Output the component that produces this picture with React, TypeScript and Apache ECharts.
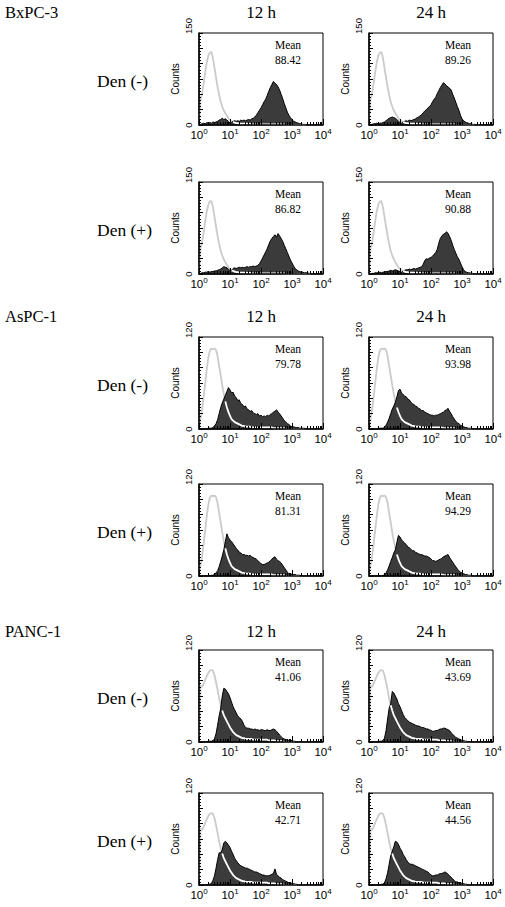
import React, { useEffect, useRef } from "react";
import * as echarts from "echarts";

// log10 of fluorescence channel (bin centres)
const BINS = [
  0, 0.05, 0.1, 0.15, 0.2, 0.25, 0.3, 0.35, 0.4, 0.45,
  0.5, 0.55, 0.6, 0.65, 0.7, 0.75, 0.8, 0.85, 0.9, 0.95,
  1, 1.05, 1.1, 1.15, 1.2, 1.25, 1.3, 1.35, 1.4, 1.45,
  1.5, 1.55, 1.6, 1.65, 1.7, 1.75, 1.8, 1.85, 1.9, 1.95,
  2, 2.05, 2.1, 2.15, 2.2, 2.25, 2.3, 2.35, 2.4, 2.45,
  2.5, 2.55, 2.6, 2.65, 2.7, 2.75, 2.8, 2.85, 2.9, 2.95,
  3, 3.05, 3.1, 3.15, 3.2, 3.25, 3.3, 3.35, 3.4, 3.45,
  3.5, 3.55, 3.6, 3.65, 3.7, 3.75, 3.8, 3.85, 3.9, 3.95,
  4,
];

const CELL_LINES = ["BxPC-3", "AsPC-1", "PANC-1"];
const TIMES = ["12 h", "24 h"];
const TREATMENTS = ["Den (-)", "Den (+)", "Den (-)", "Den (+)", "Den (-)", "Den (+)"];
const ROW_YMAX = [150, 150, 120, 120, 120, 120];
const MEANS = [
  ["88.42", "89.26"],
  ["86.82", "90.88"],
  ["79.78", "93.98"],
  ["81.31", "94.29"],
  ["41.06", "43.69"],
  ["42.71", "44.56"],
];

// control (isotype) histograms, one per cell line
const CTRL_BXPC3 = [
  0, 42, 52, 68, 86, 102, 113, 118, 119, 109,
  93, 77, 62, 49, 38, 30, 24, 19, 15, 11,
  8, 6, 5, 4, 3, 3, 2, 2, 2, 2,
  2, 2, 1, 2, 1, 1, 1, 1, 1, 1,
  1, 1, 1, 1, 1, 1, 1, 1, 1, 1,
  1, 1, 1, 1, 0, 1, 0, 0, 0, 0,
  0, 0, 0, 0, 0, 0, 0, 0, 0, 0,
  0, 0, 0, 0, 0, 0, 0, 0, 0, 0,
  0,
];
const CTRL_ASPC1 = [
  0, 14, 26, 42, 60, 78, 93, 102, 105, 104,
  105, 103, 95, 82, 70, 57, 46, 36, 28, 22,
  17, 13, 11, 9, 8, 7, 6, 5, 4, 4,
  3, 3, 3, 3, 2, 2, 2, 2, 2, 2,
  2, 2, 2, 2, 2, 2, 2, 2, 1, 1,
  1, 1, 1, 1, 1, 1, 0, 0, 0, 0,
  0, 0, 0, 0, 0, 0, 0, 0, 0, 0,
  0, 0, 0, 0, 0, 0, 0, 0, 0, 0,
  0,
];
const CTRL_PANC1 = [
  0, 74, 72, 76, 81, 86, 90, 93, 94, 93,
  87, 78, 68, 57, 48, 41, 35, 31, 27, 23,
  19, 16, 13, 11, 9, 8, 7, 6, 5, 5,
  4, 4, 4, 4, 4, 3, 3, 3, 3, 3,
  3, 3, 3, 3, 3, 2, 2, 2, 2, 2,
  1, 1, 1, 1, 1, 0, 0, 0, 0, 0,
  0, 0, 0, 0, 0, 0, 0, 0, 0, 0,
  0, 0, 0, 0, 0, 0, 0, 0, 0, 0,
  0,
];

// stained sample histograms
const S_BX_M12 = [
  0, 1, 2, 3, 2, 4, 3, 4, 3, 5,
  4, 5, 6, 8, 9, 11, 9, 10, 8, 6,
  3, 4, 6, 7, 6, 7, 6, 8, 7, 8,
  7, 8, 9, 8, 10, 11, 13, 16, 20, 24,
  28, 33, 38, 42, 48, 55, 61, 66, 71, 68,
  66, 62, 57, 50, 43, 35, 28, 21, 16, 12,
  9, 6, 5, 4, 3, 2, 2, 1, 1, 1,
  0, 0, 0, 0, 0, 0, 0, 0, 0, 0,
  0,
];
const S_BX_M24 = [
  0, 1, 1, 2, 2, 3, 2, 3, 3, 4,
  5, 7, 9, 11, 12, 13, 12, 11, 9, 6,
  4, 3, 5, 6, 7, 6, 8, 7, 8, 9,
  10, 12, 13, 15, 17, 20, 23, 25, 28, 30,
  33, 38, 42, 45, 51, 56, 61, 65, 69, 67,
  64, 62, 60, 57, 50, 44, 37, 30, 24, 16,
  10, 7, 5, 4, 3, 2, 2, 1, 1, 0,
  0, 0, 0, 0, 0, 0, 0, 0, 0, 0,
  0,
];
const S_BX_P12 = [
  0, 1, 2, 2, 3, 3, 4, 3, 4, 4,
  5, 5, 6, 7, 8, 10, 12, 11, 10, 8,
  5, 6, 9, 10, 9, 10, 11, 10, 11, 10,
  11, 12, 11, 12, 12, 13, 12, 13, 14, 17,
  21, 26, 31, 36, 41, 48, 54, 58, 61, 64,
  60, 66, 62, 58, 53, 47, 41, 35, 29, 23,
  18, 13, 9, 7, 5, 4, 3, 3, 2, 2,
  2, 1, 1, 0, 0, 0, 0, 0, 0, 0,
  0,
];
const S_BX_P24 = [
  0, 0, 1, 1, 2, 2, 2, 3, 2, 3,
  3, 4, 4, 5, 6, 5, 6, 7, 6, 5,
  4, 3, 5, 6, 7, 7, 8, 7, 8, 9,
  8, 9, 10, 11, 12, 16, 22, 25, 24, 26,
  27, 29, 32, 35, 40, 50, 58, 62, 65, 66,
  69, 66, 61, 55, 47, 40, 34, 28, 24, 18,
  12, 7, 4, 3, 2, 2, 1, 1, 0, 0,
  0, 0, 0, 0, 0, 0, 0, 0, 0, 0,
  0,
];
const S_AS_M12 = [
  0, 0, 0, 0, 0, 0, 1, 1, 1, 2,
  4, 7, 12, 20, 28, 34, 39, 44, 49, 54,
  51, 47, 48, 43, 41, 37, 38, 33, 32, 29,
  30, 26, 25, 23, 24, 21, 20, 19, 20, 17,
  18, 16, 17, 16, 18, 17, 19, 20, 22, 23,
  25, 22, 20, 17, 14, 11, 9, 7, 6, 4,
  3, 3, 2, 2, 2, 1, 1, 1, 1, 0,
  0, 0, 0, 0, 0, 0, 0, 0, 0, 0,
  0,
];
const S_AS_M24 = [
  0, 0, 0, 0, 0, 0, 0, 1, 1, 1,
  2, 5, 9, 14, 20, 26, 30, 35, 42, 50,
  52, 47, 45, 43, 42, 39, 38, 35, 33, 32,
  30, 29, 27, 26, 24, 24, 22, 21, 20, 19,
  18, 18, 17, 18, 18, 19, 20, 21, 22, 24,
  25, 27, 23, 20, 16, 13, 10, 8, 7, 5,
  4, 3, 2, 2, 1, 1, 1, 0, 0, 0,
  0, 0, 0, 0, 0, 0, 0, 0, 0, 0,
  0,
];
const S_AS_P12 = [
  0, 0, 0, 0, 0, 0, 0, 0, 1, 1,
  2, 4, 7, 12, 19, 26, 34, 45, 55, 50,
  47, 45, 42, 39, 36, 34, 31, 30, 28, 28,
  27, 27, 26, 27, 25, 24, 23, 22, 20, 18,
  16, 15, 15, 16, 17, 18, 20, 22, 24, 25,
  22, 20, 19, 17, 14, 11, 8, 5, 3, 3,
  2, 2, 2, 1, 1, 1, 0, 0, 0, 0,
  0, 0, 0, 0, 0, 0, 0, 0, 0, 0,
  0,
];
const S_AS_P24 = [
  0, 0, 0, 0, 0, 0, 0, 0, 0, 1,
  1, 4, 8, 13, 19, 24, 30, 34, 44, 53,
  51, 47, 45, 43, 41, 38, 37, 35, 33, 33,
  31, 30, 29, 28, 28, 27, 26, 26, 25, 24,
  22, 20, 20, 19, 20, 21, 22, 23, 25, 26,
  27, 28, 24, 21, 18, 15, 12, 9, 7, 5,
  4, 3, 2, 2, 1, 1, 1, 0, 0, 0,
  0, 0, 0, 0, 0, 0, 0, 0, 0, 0,
  0,
];
const S_PA_M12 = [
  0, 0, 0, 0, 0, 0, 1, 1, 1, 2,
  4, 11, 22, 34, 44, 60, 70, 69, 66, 63,
  58, 52, 46, 42, 38, 34, 32, 30, 27, 22,
  19, 18, 18, 17, 17, 16, 17, 16, 16, 15,
  16, 16, 15, 15, 16, 15, 15, 16, 17, 16,
  14, 12, 9, 7, 5, 4, 3, 3, 2, 2,
  2, 1, 1, 0, 0, 0, 0, 0, 0, 0,
  0, 0, 0, 0, 0, 0, 0, 0, 0, 0,
  0,
];
const S_PA_M24 = [
  0, 0, 0, 0, 0, 0, 0, 1, 1, 2,
  5, 15, 30, 44, 50, 66, 64, 60, 56, 50,
  46, 41, 36, 32, 30, 28, 26, 25, 24, 23,
  22, 21, 21, 20, 19, 19, 18, 17, 17, 16,
  15, 14, 14, 15, 15, 16, 17, 17, 18, 18,
  17, 16, 15, 12, 10, 8, 6, 5, 4, 3,
  2, 2, 1, 1, 0, 0, 0, 0, 0, 0,
  0, 0, 0, 0, 0, 0, 0, 0, 0, 0,
  0,
];
const S_PA_P12 = [
  0, 0, 0, 0, 0, 0, 1, 1, 2, 6,
  12, 22, 33, 42, 42, 46, 55, 57, 55, 52,
  49, 44, 40, 35, 32, 29, 27, 25, 24, 23,
  22, 22, 21, 20, 19, 18, 17, 17, 16, 15,
  14, 13, 13, 12, 12, 12, 13, 14, 15, 21,
  14, 12, 10, 9, 7, 6, 5, 4, 3, 3,
  2, 2, 1, 1, 0, 0, 0, 0, 0, 0,
  0, 0, 0, 0, 0, 0, 0, 0, 0, 0,
  0,
];
const S_PA_P24 = [
  0, 0, 0, 0, 0, 0, 0, 0, 1, 1,
  3, 8, 16, 27, 38, 44, 50, 57, 56, 53,
  48, 45, 40, 37, 33, 30, 28, 27, 27, 26,
  25, 24, 23, 22, 21, 20, 19, 18, 17, 15,
  13, 12, 12, 13, 13, 14, 15, 15, 16, 17,
  16, 14, 12, 10, 8, 6, 4, 4, 3, 3,
  2, 2, 1, 1, 0, 0, 0, 0, 0, 0,
  0, 0, 0, 0, 0, 0, 0, 0, 0, 0,
  0,
];

const ROW_CONTROL = [CTRL_BXPC3, CTRL_BXPC3, CTRL_ASPC1, CTRL_ASPC1, CTRL_PANC1, CTRL_PANC1];
const ROW_SAMPLES = [
  [S_BX_M12, S_BX_M24],
  [S_BX_P12, S_BX_P24],
  [S_AS_M12, S_AS_M24],
  [S_AS_P12, S_AS_P24],
  [S_PA_M12, S_PA_M24],
  [S_PA_P12, S_PA_P24],
];

// layout
const W = 505;
const H = 907;
const GRID_LEFT = [199, 369];
const GRID_W = 124;
const GRID_H = 92;
const ROW_TOP = [33, 182, 337, 484, 650, 793];
const HEADER_Y = [12, 316, 631];
const GRAY = "#cbcbcb";
const DARK = "#3b3b3b";
const SERIF = "'Liberation Serif', 'Times New Roman', serif";
const SANS = "'Liberation Sans', Arial, sans-serif";

const MINOR_X: number[] = [];
for (let n = 0; n < 4; n++) {
  for (let k = 2; k <= 9; k++) MINOR_X.push(n + Math.log10(k));
}

function buildOption() {
  const grid: any[] = [];
  const xAxis: any[] = [];
  const yAxis: any[] = [];
  const series: any[] = [];
  const graphic: any[] = [];

  CELL_LINES.forEach((name, i) => {
    graphic.push({
      type: "text",
      x: 5,
      y: HEADER_Y[i],
      style: { text: name, fontSize: 16.5, fontFamily: SERIF, fill: "#000", align: "left", verticalAlign: "middle" },
    });
    TIMES.forEach((t, c) => {
      graphic.push({
        type: "text",
        x: GRID_LEFT[c] + GRID_W / 2,
        y: HEADER_Y[i],
        style: { text: t, fontSize: 17, fontFamily: SERIF, fill: "#000", align: "center", verticalAlign: "middle" },
      });
    });
  });

  ROW_TOP.forEach((top, r) => {
    const ymax = ROW_YMAX[r];
    graphic.push({
      type: "text",
      x: 97,
      y: top + 48,
      style: { text: TREATMENTS[r], fontSize: 17.5, fontFamily: SERIF, fill: "#000", align: "left", verticalAlign: "middle" },
    });
    const yMinor: number[] = [];
    for (let v = 0; v <= ymax + 0.001; v += ymax / 30) yMinor.push(v);

    for (let c = 0; c < 2; c++) {
      const p = grid.length;
      const left = GRID_LEFT[c];
      grid.push({
        left,
        top,
        width: GRID_W,
        height: GRID_H,
        show: true,
        borderColor: "#000",
        borderWidth: 1,
        backgroundColor: "transparent",
        containLabel: false,
        outerBoundsMode: "none",
      });
      xAxis.push({
        type: "value",
        gridIndex: p,
        min: 0,
        max: 4,
        interval: 1,
        position: "bottom",
        z: 10,
        axisLine: { show: true, onZero: false, lineStyle: { color: "#000", width: 1.5 } },
        axisTick: { show: true, inside: true, length: 3, customValues: MINOR_X, lineStyle: { color: "#000", width: 1 } },
        axisLabel: {
          show: true,
          margin: 2,
          showMinLabel: true,
          showMaxLabel: true,
          hideOverlap: false,
          color: "#000",
          formatter: (v: number) => `{b|10}{s|${v}}`,
          rich: {
            b: { fontSize: 11.5, fontFamily: SANS, color: "#000", verticalAlign: "bottom", padding: [2, 0, 0, 0] },
            s: { fontSize: 8, fontFamily: SANS, color: "#000", verticalAlign: "top" },
          },
        },
        splitLine: { show: false },
      });
      xAxis.push({
        type: "value",
        gridIndex: p,
        min: 0,
        max: 4,
        interval: 1,
        position: "bottom",
        z: 10,
        axisLine: { show: false, onZero: false },
        axisTick: { show: true, inside: true, length: 6, lineStyle: { color: "#000", width: 1 } },
        axisLabel: { show: false },
        splitLine: { show: false },
      });
      yAxis.push({
        type: "value",
        gridIndex: p,
        min: 0,
        max: ymax,
        interval: ymax / 6,
        position: "left",
        z: 10,
        name: "Counts",
        nameLocation: "middle",
        nameGap: 19,
        nameRotate: 90,
        nameTextStyle: { fontSize: 10, fontFamily: SANS, color: "#000" },
        axisLine: { show: true, onZero: false, lineStyle: { color: "#000", width: 1.5 } },
        axisTick: { show: true, inside: true, length: 4, lineStyle: { color: "#000", width: 1 } },
        axisLabel: {
          show: true,
          customValues: [0, ymax],
          rotate: 90,
          margin: 6,
          color: "#000",
          formatter: (v: number) => (v === ymax ? `{t|${v}}` : `{z|${v}}`),
          rich: {
            t: { fontSize: 9.5, fontFamily: SANS, color: "#000", padding: [0, 0, 0, 14] },
            z: { fontSize: 9.5, fontFamily: SANS, color: "#000" },
          },
        },
        splitLine: { show: false },
      });
      yAxis.push({
        type: "value",
        gridIndex: p,
        min: 0,
        max: ymax,
        position: "left",
        z: 10,
        axisLine: { show: false, onZero: false },
        axisTick: { show: true, inside: true, length: 2, customValues: yMinor, lineStyle: { color: "#000", width: 1 } },
        axisLabel: { show: false },
        splitLine: { show: false },
      });

      const ctrl = ROW_CONTROL[r];
      const s = ROW_SAMPLES[r][c];
      const xi = 2 * p;
      const yi = 2 * p;
      series.push({
        type: "line",
        xAxisIndex: xi,
        yAxisIndex: yi,
        data: BINS.map((x, i) => [x, ctrl[i]]),
        symbol: "none",
        silent: true,
        lineStyle: { color: GRAY, width: 1.8 },
        z: 2,
      });
      series.push({
        type: "line",
        xAxisIndex: xi,
        yAxisIndex: yi,
        data: BINS.map((x, i) => [x, s[i]]),
        symbol: "none",
        silent: true,
        lineStyle: { color: "#000", width: 1 },
        areaStyle: { color: DARK, opacity: 1 },
        z: 3,
      });
      series.push({
        type: "line",
        xAxisIndex: xi,
        yAxisIndex: yi,
        data: BINS.map((x, i) => [x, s[i] > 0 && ctrl[i] <= s[i] ? ctrl[i] : "-"]),
        connectNulls: false,
        symbol: "none",
        silent: true,
        lineStyle: { color: "#fff", width: 1.8 },
        z: 4,
      });

      graphic.push({
        type: "text",
        x: left + 89,
        y: top + 12,
        style: { text: "Mean", fontSize: 11.5, fontFamily: SERIF, fill: "#000", align: "center", verticalAlign: "middle" },
      });
      graphic.push({
        type: "text",
        x: left + 89,
        y: top + 27,
        style: { text: MEANS[r][c], fontSize: 11.5, fontFamily: SERIF, fill: "#000", align: "center", verticalAlign: "middle" },
      });
    }
  });

  return {
    animation: false,
    backgroundColor: "#fff",
    grid,
    xAxis,
    yAxis,
    series,
    graphic,
  };
}

export default function App() {
  const ref = useRef<HTMLDivElement>(null);
  useEffect(() => {
    if (!ref.current) return;
    const chart = echarts.init(ref.current, undefined, { renderer: "svg", width: W, height: H });
    chart.setOption(buildOption() as any);
    return () => chart.dispose();
  }, []);
  return <div ref={ref} style={{ position: "absolute", left: 0, top: 0, width: W, height: H, background: "#fff" }} />;
}
